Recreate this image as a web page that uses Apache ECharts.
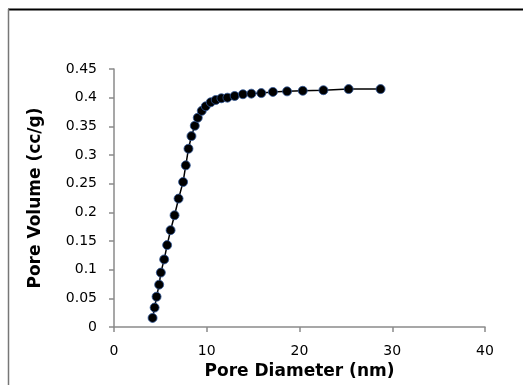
<!DOCTYPE html>
<html>
<head>
<meta charset="utf-8">
<script src="https://cdn.jsdelivr.net/npm/echarts@6/dist/echarts.min.js"></script>
<style>
  html, body { margin: 0; padding: 0; background: #fff; }
  #chart { width: 523px; height: 385px; }
</style>
</head>
<body>
<div id="chart"></div>
<script>
// pore diameter (nm) vs cumulative pore volume (cc/g)
const poreDiameter = [4.16, 4.38, 4.59, 4.87, 5.05, 5.41, 5.73, 6.10, 6.53, 6.96, 7.45, 7.74, 8.03, 8.35, 8.71, 9.03, 9.46, 9.89, 10.43, 10.97, 11.58, 12.23, 13.01, 13.90, 14.81, 15.88, 17.13, 18.66, 20.35, 22.58, 25.30, 28.74]
const poreVolume = [0.016, 0.034, 0.053, 0.074, 0.095, 0.118, 0.143, 0.169, 0.195, 0.224, 0.253, 0.282, 0.311, 0.333, 0.351, 0.365, 0.377, 0.385, 0.392, 0.396, 0.399, 0.400, 0.403, 0.406, 0.407, 0.408, 0.410, 0.411, 0.412, 0.413, 0.415, 0.415]

const xTitle = "Pore Diameter (nm)"
const yTitle = "Pore Volume (cc/g)"

const points = poreDiameter.map((d, i) => [d, poreVolume[i]])

const chart = echarts.init(document.getElementById("chart"))

const axisColor = "#8a8a8a"
const font = "DejaVu Sans"

chart.setOption({
  backgroundColor: "#fff",
  animation: false,
  grid: { left: 114, right: 38, top: 69, bottom: 50 },
  xAxis: {
    type: "value",
    min: 0,
    max: 40,
    interval: 10,
    name: xTitle,
    nameLocation: "middle",
    nameGap: 31,
    nameTextStyle: { fontFamily: font, fontWeight: "bold", fontSize: 17, color: "#000" },
    axisLine: { lineStyle: { color: axisColor, width: 1.5 } },
    axisTick: { show: true, length: 5, lineStyle: { color: axisColor, width: 1.5 } },
    axisLabel: { fontFamily: font, fontSize: 14, color: "#000", margin: 17 },
    splitLine: { show: false },
  },
  yAxis: {
    type: "value",
    min: 0,
    max: 0.45,
    interval: 0.05,
    name: yTitle,
    nameLocation: "middle",
    nameGap: 70,
    nameTextStyle: { fontFamily: font, fontWeight: "bold", fontSize: 17, color: "#000" },
    axisLine: { show: true, lineStyle: { color: axisColor, width: 1.5 } },
    axisTick: { show: true, length: 5, lineStyle: { color: axisColor, width: 1.5 } },
    axisLabel: {
      fontFamily: font,
      fontSize: 14,
      color: "#000",
      margin: 17,
      formatter: (v) => String(parseFloat(v.toFixed(2))),
    },
    splitLine: { show: false },
  },
  series: [
    {
      type: "line",
      data: points,
      symbol: "circle",
      symbolSize: 9,
      lineStyle: { color: "#000", width: 1.5 },
      itemStyle: { color: "#000", borderColor: "#2f5597", borderWidth: 0.8 },
    },
  ],
  graphic: [
    // frame edges seen in the picture
    { type: "line", shape: { x1: 8, y1: 9.5, x2: 523, y2: 9.5 }, style: { stroke: "#000", lineWidth: 2 } },
    { type: "line", shape: { x1: 8.5, y1: 9, x2: 8.5, y2: 385 }, style: { stroke: "#777", lineWidth: 1.5 } },
  ],
})
</script>
</body>
</html>
